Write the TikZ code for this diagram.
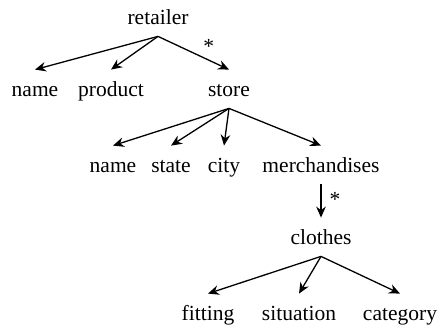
\documentclass[tikz,border=0pt]{standalone}
\usepackage{fontspec}
\setmainfont{Liberation Serif}
\usepackage{tikz}
\usetikzlibrary{arrows.meta}

\tikzset{
  elem/.style={anchor=base, text height=8pt, text depth=0pt, inner xsep=1pt,
               inner ysep=5.5pt, font=\fontsize{10.75}{13}\selectfont},
  link/.style={-{Stealth[length=5.5pt, width=4.8pt, inset=1.8pt]}, line width=0.65pt},
  mult/.style={font=\fontsize{10.75}{13}\selectfont, inner sep=1pt}
}

\begin{document}
\begin{tikzpicture}[x=0.5pt, y=-0.5pt]

\useasboundingbox (0,0) rectangle (439,331);

% Root
\node[elem] (retailer) at (158, 25) {retailer};

% Level 1
\node[elem] (name)    at (35, 97)  {name};
\node[elem] (product) at (111, 97) {product};
\node[elem] (store)   at (229, 97) {store};

% Level 2
\node[elem] (sname) at (113, 173) {name};
\node[elem] (state) at (171, 173) {state};
\node[elem] (city)  at (224, 173) {city};
\node[elem] (merch) at (321, 173) {merchandises};

% Level 3
\node[elem] (clothes) at (321, 245) {clothes};

% Level 4
\node[elem] (fitting)   at (208, 321) {fitting};
\node[elem] (situation) at (299, 321) {situation};
\node[elem] (category)  at (400, 321) {category};

% Edges
\draw[link] (retailer.south) -- (name.north);
\draw[link] (retailer.south) -- (product.north);
\draw[link] (retailer.south) -- node[mult, pos=0.6, above right] {*} (store.north);

\draw[link] (store.south) -- (sname.north);
\draw[link] (store.south) -- (state.north);
\draw[link] (store.south) -- (city.north);
\draw[link] (store.south) -- (merch.north);

\draw[link] (merch.south) -- node[mult, right, xshift=3pt, yshift=1pt] {*} (clothes.north);

\draw[link] (clothes.south) -- (fitting.north);
\draw[link] (clothes.south) -- (situation.north);
\draw[link] (clothes.south) -- (category.north);

\end{tikzpicture}
\end{document}
